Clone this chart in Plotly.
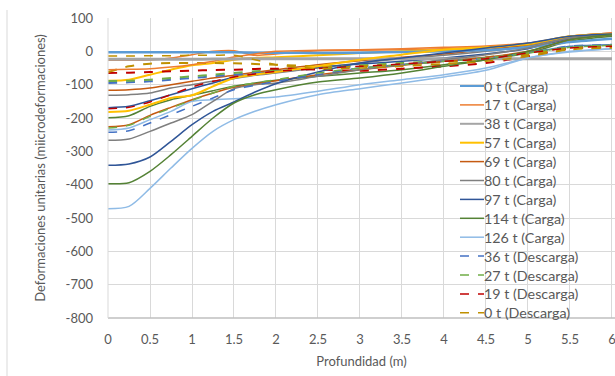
import plotly.graph_objects as go

X = [0, 0.25, 0.5, 0.75, 1, 1.25, 1.5, 1.75, 2, 2.5, 3, 3.5, 4, 4.5, 5, 5.5, 6]
x_ticks = [0, 0.5, 1, 1.5, 2, 2.5, 3, 3.5, 4, 4.5, 5, 5.5, 6]
x_labels = ["0", "0.5", "1", "1.5", "2", "2.5", "3", "3.5", "4", "4.5", "5", "5.5", "6"]
y_ticks = [100, 0, -100, -200, -300, -400, -500, -600, -700, -800]
y_labels = ["100", "0", "-100", "-200", "-300", "-400", "-500", "-600", "-700", "-800"]

# Legend series
c0 = [-3, -3, -3, -3, -3, -3, -3, -4, -4, -5, -4, -2, 0, 4, 12, 28, 38]
c17 = [-55, -54, -52, -47, -40, -30, -17, -8, 0, 3, 5, 8, 12, 16, 25, 45, 55]
c38 = [-24, -24, -24, -24, -24, -23, -23, -22, -22, -22, -22, -22, -22, -22, -22, -22, -22]
c57 = [-182, -178, -160, -140, -132, -105, -80, -70, -62, -45, -25, -10, 5, 12, 22, 45, 52]
c69 = [-226, -220, -192, -168, -145, -125, -108, -98, -88, -70, -55, -42, -30, -18, 0, 35, 50]
c80 = [-267, -263, -240, -215, -190, -150, -112, -100, -95, -75, -55, -40, -25, -10, 10, 40, 50]
c97 = [-342, -338, -317, -270, -220, -180, -152, -122, -97, -62, -35, -20, -5, 10, 25, 45, 52]
c114 = [-397, -394, -360, -310, -255, -200, -155, -130, -115, -92, -80, -65, -45, -25, 0, 35, 50]
c126 = [-472, -465, -411, -350, -291, -240, -205, -180, -160, -130, -112, -95, -77, -57, -20, -2, 8]
d36 = [-243, -238, -215, -190, -165, -140, -115, -102, -90, -70, -50, -40, -30, -20, -5, 15, 20]
d27 = [-230, -222, -195, -170, -147, -125, -105, -95, -85, -65, -50, -40, -30, -20, -5, 12, 18]
d19 = [-172, -168, -152, -130, -107, -90, -77, -68, -60, -52, -45, -38, -30, -22, -5, 10, 15]
d0 = [-14, -14, -13, -13, -12, -12, -12, -25, -40, -52, -50, -45, -38, -30, -15, 5, 10]

# Additional series (not shown in legend)
e36 = [-95, -93, -90, -85, -80, -75, -70, -65, -60, -52, -45, -38, -30, -20, -5, 15, 20]
e27 = [-89, -88, -85, -80, -75, -70, -65, -60, -55, -48, -42, -35, -28, -18, -5, 12, 18]
e19 = [-65, -64, -62, -60, -58, -56, -55, -53, -52, -55, -58, -52, -45, -35, -15, 8, 12]
e0 = [-62, -45, -37, -35, -35, -35, -36, -38, -40, -45, -45, -40, -32, -25, -10, 8, 12]
e126 = [-236, -230, -205, -180, -150, -145, -142, -140, -137, -120, -100, -85, -70, -50, -20, 0, 8]
e114 = [-199, -193, -165, -145, -132, -118, -105, -95, -87, -75, -65, -55, -40, -25, -5, 30, 45]
e97 = [-169, -165, -148, -130, -112, -95, -77, -68, -60, -48, -38, -30, -20, -8, 8, 38, 50]
e80 = [-132, -130, -125, -110, -100, -90, -82, -72, -65, -50, -35, -22, -12, 0, 15, 42, 52]
e69 = [-117, -115, -110, -100, -90, -80, -72, -63, -55, -40, -28, -18, -8, 5, 20, 45, 55]
e57 = [-88, -85, -70, -55, -42, -35, -25, -20, -18, -12, -5, 0, 5, 10, 20, 40, 48]
e17 = [-27, -27, -26, -20, -10, 0, 2, -12, -8, 2, 3, 5, 8, 12, 20, 40, 50]

legend_series = [
    ("0 t (Carga)", c0, "#5B9BD5", "solid", 2.5),
    ("17 t (Carga)", c17, "#ED7D31", "solid", 1.5),
    ("38 t (Carga)", c38, "#A5A5A5", "solid", 3),
    ("57 t (Carga)", c57, "#FFC000", "solid", 2),
    ("69 t (Carga)", c69, "#C55A11", "solid", 1.5),
    ("80 t (Carga)", c80, "#7F7F7F", "solid", 1.5),
    ("97 t (Carga)", c97, "#2F5597", "solid", 1.5),
    ("114 t (Carga)", c114, "#548235", "solid", 1.5),
    ("126 t (Carga)", c126, "#8FBBE6", "solid", 1.5),
    ("36 t (Descarga)", d36, "#4472C4", "dash", 1.5),
    ("27 t (Descarga)", d27, "#70AD47", "dash", 1.5),
    ("19 t (Descarga)", d19, "#C00000", "dash", 1.5),
    ("0 t (Descarga)", d0, "#BF9000", "dash", 1.5),
]
extra_series = [
    (e17, "#ED7D31", "solid", 1.5),
    (e57, "#FFC000", "solid", 2),
    (e69, "#C55A11", "solid", 1.5),
    (e80, "#7F7F7F", "solid", 1.5),
    (e97, "#2F5597", "solid", 1.5),
    (e114, "#548235", "solid", 1.5),
    (e126, "#8FBBE6", "solid", 1.5),
    (e36, "#4472C4", "dash", 2),
    (e27, "#70AD47", "dash", 2),
    (e19, "#C00000", "dash", 2),
    (e0, "#BF9000", "dash", 2),
]

fig = go.Figure()
for vals, col, dash, w in extra_series:
    fig.add_trace(go.Scatter(x=X, y=vals, mode="lines", showlegend=False,
                             line=dict(color=col, width=w, dash=dash, shape="spline", smoothing=0.8),
                             hoverinfo="skip"))
for name, vals, col, dash, w in legend_series:
    fig.add_trace(go.Scatter(x=X, y=vals, mode="lines", name=name, showlegend=False,
                             line=dict(color=col, width=w, dash=dash, shape="spline", smoothing=0.8)))

# Legend drawn as line samples + text, positioned in paper coordinates
L, T, W, H = 108, 18, 507, 300
def px(xp):
    return (xp - L) / W
def py(yp):
    return (T + H - yp) / H

for i, (name, vals, col, dash, w) in enumerate(legend_series):
    yc = 86 + 18.9 * i
    fig.add_shape(type="line", xref="paper", yref="paper",
                  x0=px(460), x1=px(484), y0=py(yc), y1=py(yc),
                  line=dict(color=col, width=min(w, 2), dash=dash))
    fig.add_annotation(xref="paper", yref="paper", x=px(484), y=py(yc),
                       xanchor="left", yanchor="middle", showarrow=False,
                       text=name, font=dict(size=14.3, color="#595959"), xshift=-2)

fig.update_layout(
    width=615, height=376,
    margin=dict(l=L, r=0, t=T, b=58),
    paper_bgcolor="white", plot_bgcolor="white",
    font=dict(family="Lato, Open Sans, sans-serif", color="#595959", size=13),
    showlegend=False,
    xaxis=dict(range=[0, 6.036], tickmode="array", tickvals=x_ticks, ticktext=x_labels,
               showgrid=True, gridcolor="#D9D9D9", gridwidth=1, zeroline=False,
               showline=False, ticks="", ticklabelstandoff=12, ticklabeloverflow="allow",
               title=dict(text="Profundidad (m)", font=dict(size=13, color="#595959"), standoff=10)),
    yaxis=dict(range=[-800, 100], tickmode="array", tickvals=y_ticks, ticktext=y_labels,
               showgrid=True, gridcolor="#D9D9D9", gridwidth=1,
               zeroline=False, showline=False, ticks="", ticklabelstandoff=14,
               title=dict(text="Deformaciones unitarias (miicrodeformaciones)",
                          font=dict(size=13, color="#595959"), standoff=16)),
)
fig.add_shape(type="line", xref="paper", yref="paper", x0=0, x1=1, y0=0, y1=0,
              line=dict(color="#BFBFBF", width=1.5))
fig.add_shape(type="line", xref="paper", yref="paper", x0=0, x1=0, y0=0, y1=1,
              line=dict(color="#D9D9D9", width=1))
fig.add_shape(type="line", xref="paper", yref="paper", x0=px(7), x1=px(7), y0=py(376), y1=py(10),
              line=dict(color="#D9D9D9", width=1))

fig.write_html("out.html")
